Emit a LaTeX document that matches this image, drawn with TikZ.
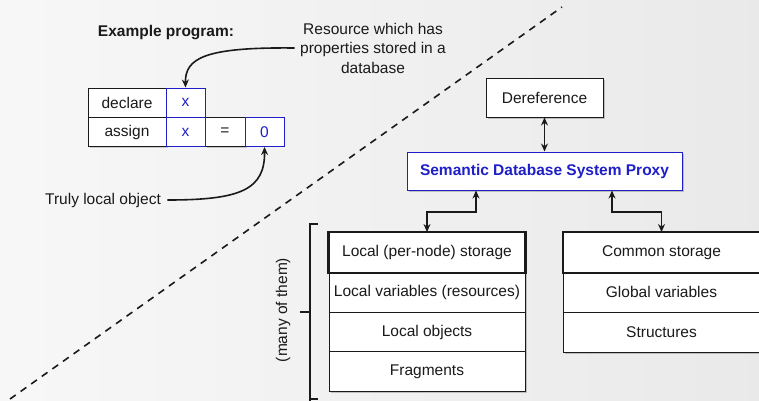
\documentclass[tikz,border=0pt]{standalone}
\usepackage{fontspec}
\setmainfont{Liberation Sans}
\usetikzlibrary{arrows.meta,shadows,calc}
\definecolor{ink}{HTML}{1A1A1A}
\definecolor{blueink}{HTML}{1F1FC8}
\newcommand{\txt}{\fontsize{15.5}{18}\selectfont}
\tikzset{
  cell/.style={draw=ink, line width=1pt, fill=white, minimum height=29pt, inner sep=0pt, font=\txt, text=ink},
  bcell/.style={cell, draw=blueink, text=blueink},
  box/.style={draw=ink, line width=1pt, fill=white, inner sep=0pt, font=\txt, text=ink,
    drop shadow={shadow xshift=1.5pt, shadow yshift=-1.5pt, opacity=0.35, fill=black!60}},
  row/.style={box, minimum width=196pt, minimum height=40pt},
  tip/.style={-{Stealth[length=8pt,width=7pt]}, line width=1.6pt, draw=ink},
  dtip/.style={{Stealth[length=8pt,width=7pt]}-{Stealth[length=8pt,width=7pt]}, line width=1.6pt, draw=ink},
}
\begin{document}
\begin{tikzpicture}[x=1pt,y=-1pt]
% background
\shade[left color=white!97!black, right color=white!91.5!black] (0,0) rectangle (759,400);
\useasboundingbox (0,0) rectangle (759,400);

% dividing line
\coordinate (d1) at (10,399);
\coordinate (d2) at (562,7);
\draw[ink, line width=1.6pt, dash pattern=on 7pt off 6pt] (d1) -- (d2);

% example program
\node[font=\bfseries\txt, text=ink] (title) at (166,33) {Example program:};
\begin{scope}[every node/.append style={drop shadow={shadow xshift=1.5pt, shadow yshift=-1.5pt, opacity=0.3, fill=black!60}}]
\node[cell, minimum width=78pt] (decl) at (127,102.5) {declare};
\node[cell, minimum width=78pt] (asg) at (127,132) {assign};
\node[cell, minimum width=40pt] (eq) at (225,132) {=};
\end{scope}
\node[bcell, minimum width=39pt] (dx) at (185.5,102.5) {x};
\node[bcell, minimum width=39pt] (ax) at (185.5,132) {x};
\node[bcell, minimum width=39pt] (zero) at (264.5,132) {0};

\node[align=center, font=\fontsize{15.5}{19.5}\selectfont, text=ink] (res) at (373,48) {Resource which has\\properties stored in a\\database};
\node[font=\txt, text=ink] (tlo) at (103,200) {Truly local object};

\draw[tip] (res.west) ++(-2,0) .. controls (205,47) and (185,58) .. (dx.north);
\draw[tip] (tlo.east) ++(3,0) .. controls (240,200) and (265,190) .. (zero.south);

% proxy part
\node[box, minimum width=117pt, minimum height=39pt] (deref) at (544.5,97.5) {Dereference};
\node[box, draw=blueink, minimum width=275pt, minimum height=38pt, font=\bfseries\txt, text=blueink] (proxy) at (544.5,171) {Semantic Database System Proxy};

\node[row] (ls) at (427,252.5) {Local (per-node) storage};
\node[row] (lv) at (427,292) {Local variables (resources)};
\node[row] (lo) at (427,332) {Local objects};
\node[row] (fr) at (427,371.5) {Fragments};
\draw[ink, line width=2.2pt] (ls.south west) rectangle (ls.north east);

\node[row] (cs) at (661.5,252.5) {Common storage};
\node[row] (gv) at (661.5,292) {Global variables};
\node[row] (st) at (661.5,332) {Structures};
\draw[ink, line width=2.2pt] (cs.south west) rectangle (cs.north east);

\draw[dtip] (deref.south) -- (proxy.north);
\draw[dtip] (proxy.south -| 476,0) |- (427,212) -- (ls.north);
\draw[dtip] (proxy.south -| 612,0) |- (661.5,212) -- (cs.north);

% bracket
\coordinate (b1) at (318,224);
\coordinate (b2) at (310,224);
\coordinate (b3) at (310,402);
\coordinate (bm) at (310,312);
\coordinate (bt) at (300,312);
\draw[ink, line width=1.6pt] (b1) -- (b2) -- (b3);
\draw[ink, line width=1.6pt] (bm) -- (bt);
\draw[ink, line width=1.6pt] (b3) ++(0,-3) -- ++(8,0);
\node[rotate=90, font=\txt, text=ink] (many) at (283,310) {(many of them)};
\end{tikzpicture}
\end{document}
